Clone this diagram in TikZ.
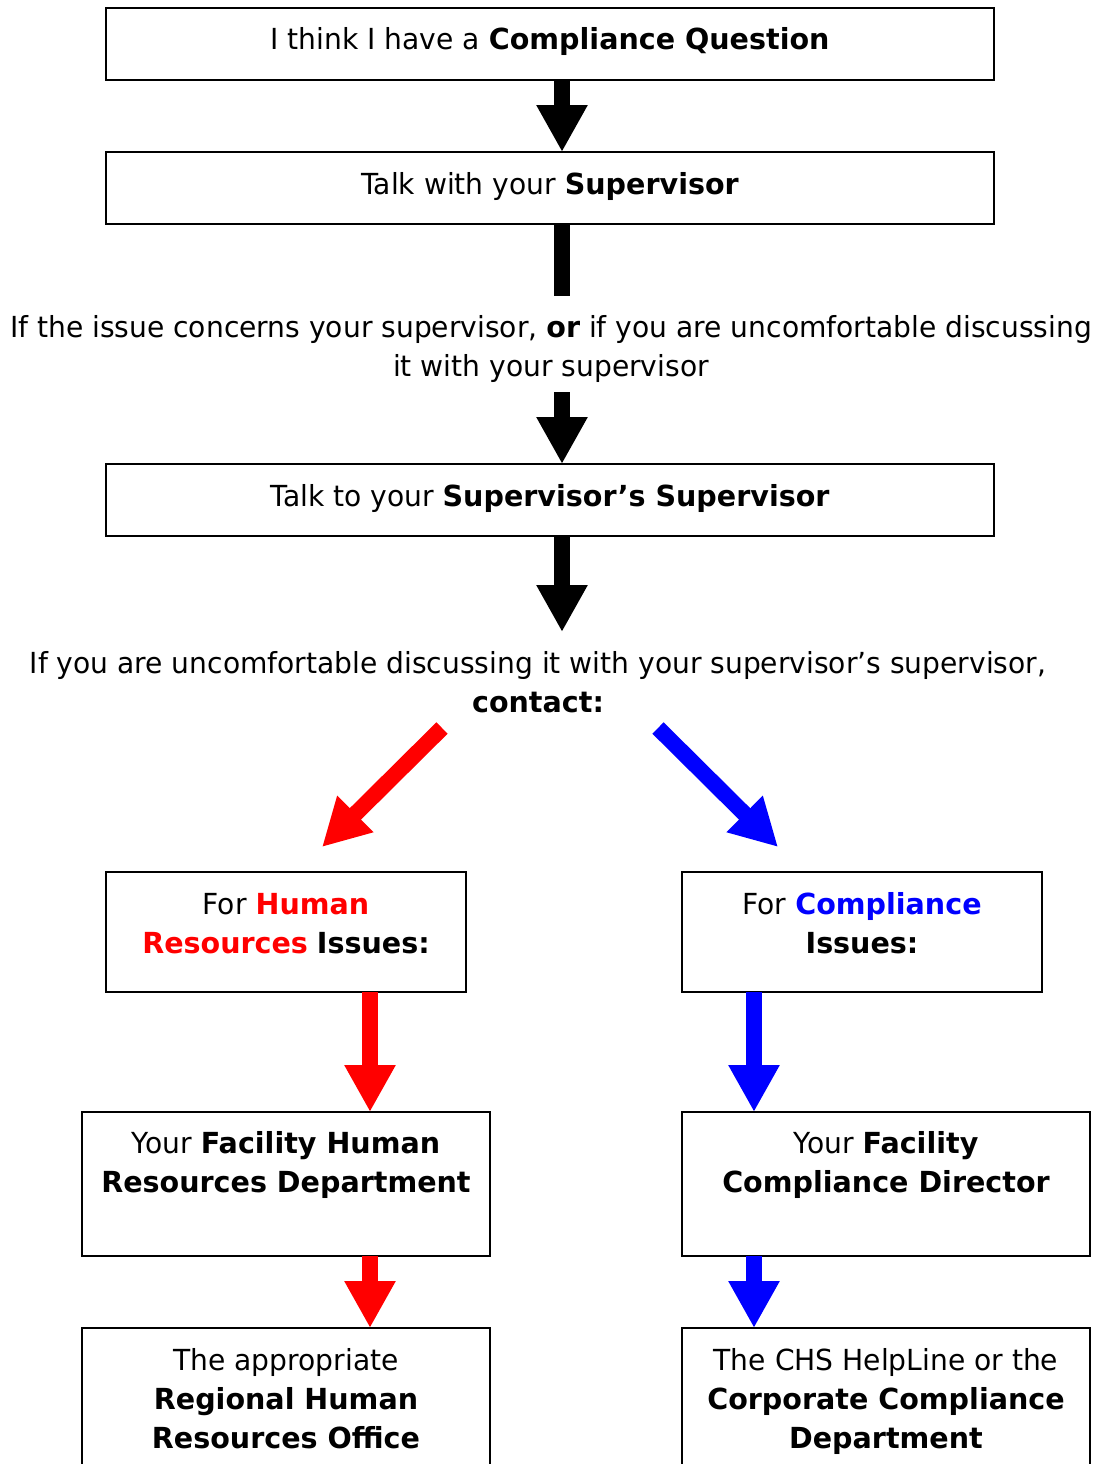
\documentclass[tikz,border=0pt]{standalone}
\usepackage{fontspec}
\setmainfont{DejaVu Sans}[FakeStretch=0.97, BoldFeatures={FakeStretch=0.985}]
\usetikzlibrary{arrows.meta}
\newcommand\bxt[4]{\parbox[c][#2][t]{#1}{\centering\rule{0pt}{#3}#4\par}}
\newcommand\frt[1]{\parbox[t]{1300pt}{\centering #1\par}}
\begin{document}
\begin{tikzpicture}[x=1pt,y=-1pt,
  every node/.style={font=\fontsize{29}{39}\selectfont},
  box/.style={draw, line width=2pt, inner sep=0pt, outer sep=0pt, anchor=north west},
  freetext/.style={inner sep=0pt, anchor=base},
  arr/.style={line width=16pt, -{Triangle[length=47pt,width=48pt]}},
  bar/.style={line width=16pt}]
\useasboundingbox (0,0) rectangle (1096,1464);
\clip (0,0) rectangle (1096,1464);
% boxes
\node[box] (b1) at (106,8) {\bxt{888pt}{72pt}{42pt}{I think I have a \textbf{Compliance Question}}};
\node[box] (b2) at (106,152) {\bxt{888pt}{72pt}{42pt}{Talk with your \textbf{Supervisor}}};
\node[box] (b3) at (106,464) {\bxt{888pt}{72pt}{42pt}{Talk to your \textbf{Supervisor’s Supervisor}}};
\node[box] (hr) at (106,872) {\bxt{360pt}{120pt}{42pt}{For \textcolor{red}{\textbf{Human}}\\ \textcolor{red}{\textbf{Resources}} \textbf{Issues:}}};
\node[box] (co) at (682,872) {\bxt{360pt}{120pt}{42pt}{For \textcolor{blue}{\textbf{Compliance}}\\ \textbf{Issues:}}};
\node[box] (fh) at (82,1112) {\bxt{408pt}{144pt}{41pt}{Your \textbf{Facility Human}\\ \textbf{Resources Department}}};
\node[box] (fc) at (682,1112) {\bxt{408pt}{144pt}{41pt}{Your \textbf{Facility}\\ \textbf{Compliance Director}}};
\node[box] (rh) at (82,1328) {\bxt{408pt}{170pt}{42pt}{The appropriate\\ \textbf{Regional Human}\\ \textbf{Resources Office}}};
\node[box] (cc) at (682,1328) {\bxt{408pt}{170pt}{42pt}{The CHS HelpLine or the\\ \textbf{Corporate Compliance}\\ \textbf{Department}}};
% free texts
\node[freetext] (t1) at (551,337) {\frt{If the issue concerns your supervisor, \textbf{or} if you are uncomfortable discussing\\ it with your supervisor}};
\node[freetext] (t2) at (538,673) {\frt{If you are uncomfortable discussing it with your supervisor’s supervisor,\\ \textbf{contact:}}};
% coordinates
\coordinate (c1) at (562,296);
\coordinate (c2) at (562,392);
\coordinate (c3) at (562,632);
\coordinate (r1) at (442,728);
\coordinate (r2) at (322,847);
\coordinate (u1) at (658,728);
\coordinate (u2) at (778,847);
\coordinate (rx) at (370,0);
\coordinate (bx) at (754,0);
% connectors
\draw[arr] ([xshift=12pt]b1.south) -- ([xshift=12pt]b2.north);
\draw[bar] ([xshift=12pt]b2.south) -- (c1);
\draw[arr] (c2) -- ([xshift=12pt]b3.north);
\draw[arr] ([xshift=12pt]b3.south) -- (c3);
\draw[arr, red] (r1) -- (r2);
\draw[arr, blue] (u1) -- (u2);
\draw[arr, red] (hr.south -| rx) -- (fh.north -| rx);
\draw[arr, red] (fh.south -| rx) -- (rh.north -| rx);
\draw[arr, blue] (co.south -| bx) -- (fc.north -| bx);
\draw[arr, blue] (fc.south -| bx) -- (cc.north -| bx);
\end{tikzpicture}
\end{document}
